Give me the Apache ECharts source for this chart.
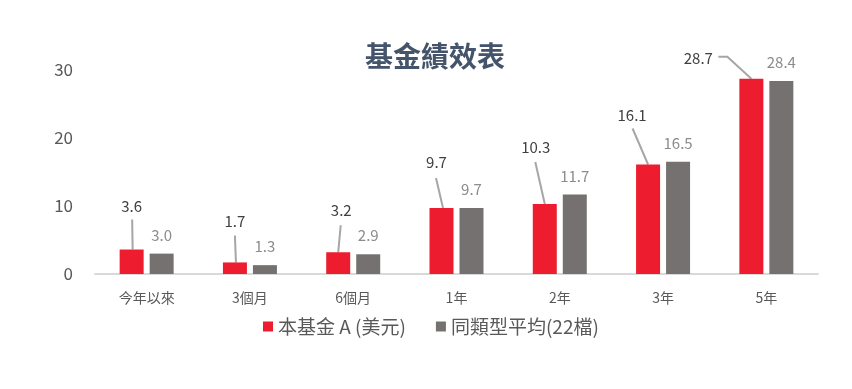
<!DOCTYPE html>
<html><head><meta charset="utf-8">
<script src="https://cdn.jsdelivr.net/npm/echarts@6/dist/echarts.min.js"></script>
<style>html,body{margin:0;padding:0;background:#fff}#c{width:852px;height:389px}</style>
</head><body><div id="c"></div>
<script>
const categories = ['今年以來','3個月','6個月','1年','2年','3年','5年'];
const fundValues = [3.6, 1.7, 3.2, 9.7, 10.3, 16.1, 28.7];
const peerValues = [3.0, 1.3, 2.9, 9.7, 11.7, 16.5, 28.4];
const yTicks = [0, 10, 20, 30];
const seriesNames = ['本基金 A (美元)', '同類型平均(22檔)'];

// styling: pixel shifts of the moved fund labels and their leader lines (relative to bar top centre)
const fundLabelShift = [[0,-31],[0,-29],[3,-29],[-5,-33],[-9,-44],[-16,-37],[-53,-8]];
const leaderPath = [
  [[0.5,-30],[1,0]], [[0,-27],[1,0]], [[2.5,-27],[0,0]], [[-5.5,-30],[1.5,0]],
  [[-9.5,-42],[0,0]], [[-15.5,-36],[0,0]], [[-33,-22],[-24,-22],[0,0]]
];
const BAR_W = 24, BAR_GAP_PX = 6;

const chart = echarts.init(document.getElementById('c'));
const font = '"Noto Sans CJK TC","Noto Sans",sans-serif';
chart.setOption({
  animation: false,
  title: {text: '基金績效表', left: 360, top: 37,
    textStyle: {fontFamily: font, fontSize: 28, fontWeight: 'bold', color: '#44546A'}},
  grid: {left: 95, right: 34, top: 70, bottom: 115},
  legend: {bottom: 48, left: 258, itemWidth: 10, itemHeight: 10, itemGap: 30, icon: 'rect',
    data: seriesNames,
    textStyle: {fontFamily: font, fontSize: 19, color: '#595959'}},
  xAxis: {type: 'category', data: categories,
    axisLine: {lineStyle: {color: '#d9d9d9', width: 2}}, axisTick: {show: false},
    axisLabel: {fontFamily: font, fontSize: 14, color: '#595959', margin: 17}},
  yAxis: {type: 'value', min: yTicks[0], max: yTicks[yTicks.length-1], interval: 10,
    splitLine: {show: false}, axisLine: {show: false}, axisTick: {show: false},
    axisLabel: {fontFamily: font, fontSize: 17, color: '#595959', margin: 22}},
  series: [
    {name: seriesNames[0], type: 'bar', data: fundValues, barWidth: BAR_W, barGap: '25%',
      itemStyle: {color: '#ED1C2E'},
      label: {show: true, position: 'top', distance: 5, fontFamily: font, fontSize: 15, color: '#404040',
        formatter: p => p.value.toFixed(1)},
      labelLayout: p => ({dx: fundLabelShift[p.dataIndex][0], dy: fundLabelShift[p.dataIndex][1]})},
    {name: seriesNames[1], type: 'bar', data: peerValues, barWidth: BAR_W,
      itemStyle: {color: '#767171'},
      label: {show: true, position: 'top', distance: 11, fontFamily: font, fontSize: 15, color: '#8c8c8c',
        formatter: p => p.value.toFixed(1)}},
    {type: 'custom', clip: false, silent: true, z: 1,
      data: fundValues.map((v, i) => [i, v]),
      renderItem: (params, api) => {
        const top = api.coord([api.value(0), api.value(1)]);
        const cx = top[0] - (BAR_W + BAR_GAP_PX) / 2, cy = top[1];
        const pts = leaderPath[params.dataIndex].map(o => [cx + o[0], cy + o[1]]);
        return {type: 'polyline', shape: {points: pts},
          style: {stroke: '#a6a6a6', lineWidth: 2, fill: null}};
      }}
  ]
});
</script></body></html>
